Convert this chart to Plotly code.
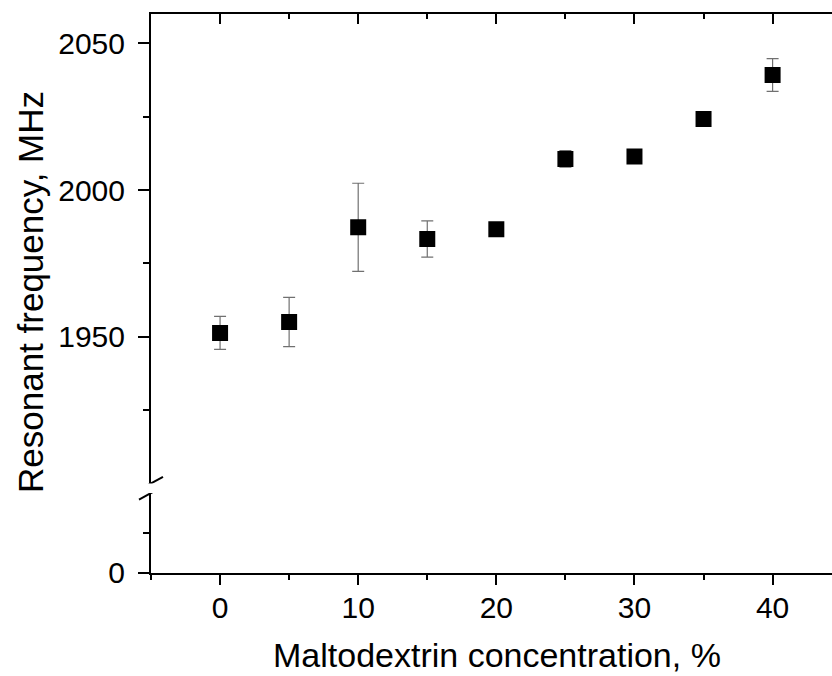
import plotly.graph_objects as go

# Data
concentration = [0, 5, 10, 15, 20, 25, 30, 35, 40]          # Maltodextrin, %
frequency = [1951.3, 1955.0, 1987.3, 1983.3, 1986.6, 2010.6, 2011.4, 2024.2, 2039.2]  # MHz
freq_err = [5.6, 8.4, 15.0, 6.2, 0.0, 2.8, 0.0, 0.0, 5.6]

x_ticks = [0, 10, 20, 30, 40]
upper_ticks = [1950, 2000, 2050]
upper_minor = [1925, 1975, 2025]
lower_ticks = [0]

FONT = "Liberation Sans, Arial, sans-serif"
BLACK = "#000000"

fig = go.Figure()
fig.add_trace(go.Scatter(
    x=concentration, y=frequency, mode="markers",
    xaxis="x2", yaxis="y2",
    marker=dict(symbol="square", size=16, color=BLACK, line=dict(width=0)),
    error_y=dict(type="data", array=freq_err, visible=True,
                 color="#707070", thickness=1.2, width=6),
    showlegend=False, hoverinfo="skip",
))

axis_common = dict(showline=True, linecolor=BLACK, linewidth=2, showgrid=False,
                   zeroline=False, tickcolor=BLACK, tickwidth=2, automargin=False,
                   tickfont=dict(family=FONT, size=30, color=BLACK))

x_range = [-5, 44.3]
PLOT_L, PLOT_T, PLOT_B = 151, 14, 573
PW, PH = 832 - PLOT_L, PLOT_B - PLOT_T

fig.update_layout(
    width=832, height=676,
    margin=dict(l=PLOT_L, r=0, t=PLOT_T, b=676 - PLOT_B, autoexpand=False),
    paper_bgcolor="white", plot_bgcolor="white",
    font=dict(family=FONT, color=BLACK),
    xaxis=dict(**axis_common, range=x_range, anchor="y", domain=[0, 1],
               tickmode="array", tickvals=x_ticks, ticks="outside", ticklen=10,
               ticklabelstandoff=-3,
               minor=dict(dtick=5, tick0=0, ticks="outside", ticklen=5,
                          tickwidth=2, tickcolor=BLACK)),
    xaxis2=dict(**axis_common, range=x_range, anchor="y2", side="top",
                matches="x", overlaying="x",
                tickmode="array", tickvals=x_ticks, ticks="inside", ticklen=10,
                showticklabels=False,
                minor=dict(dtick=5, tick0=0, ticks="inside", ticklen=5,
                           tickwidth=2, tickcolor=BLACK)),
    yaxis=dict(**axis_common, range=[0, 99.5], domain=[0, 0.1431], anchor="x",
               tickmode="array", tickvals=lower_ticks, ticks="outside", ticklen=11,
               ticklabelstandoff=7,
               minor=dict(dtick=50, tick0=0, ticks="outside",
                          ticklen=6, tickwidth=2, tickcolor=BLACK)),
    yaxis2=dict(**axis_common, range=[1900, 2060], domain=[0.1603, 1], anchor="x2",
                tickmode="array", tickvals=upper_ticks, ticks="outside", ticklen=11,
                ticklabelstandoff=7,
                minor=dict(tickmode="array", tickvals=upper_minor, ticks="outside",
                           ticklen=6, tickwidth=2, tickcolor=BLACK)),
)

# axis-break slashes on the left axis
for yref, yanchor in (("y2", 1900), ("y", 99.5)):
    fig.add_shape(type="line", xref="x domain", yref=yref,
                  xsizemode="pixel", ysizemode="pixel", xanchor=0, yanchor=yanchor,
                  x0=-12, x1=12, y0=-6.5, y1=6.5,
                  line=dict(color=BLACK, width=2))

# axis titles
fig.add_annotation(text="Maltodextrin concentration, %", xref="paper", yref="paper",
                   x=(497 - PLOT_L) / PW, y=(PLOT_B - 675) / PH,
                   xanchor="center", yanchor="bottom", showarrow=False, borderpad=0,
                   font=dict(family=FONT, size=34, color=BLACK))
fig.add_annotation(text="Resonant frequency, MHz", xref="paper", yref="paper",
                   x=(30 - PLOT_L) / PW, y=(PLOT_B - 292) / PH,
                   xanchor="center", yanchor="middle",
                   textangle=-90, showarrow=False,
                   font=dict(family=FONT, size=35, color=BLACK))

fig.write_html("out.html", config={"displayModeBar": False},
               post_script="document.body.style.margin='0';")
